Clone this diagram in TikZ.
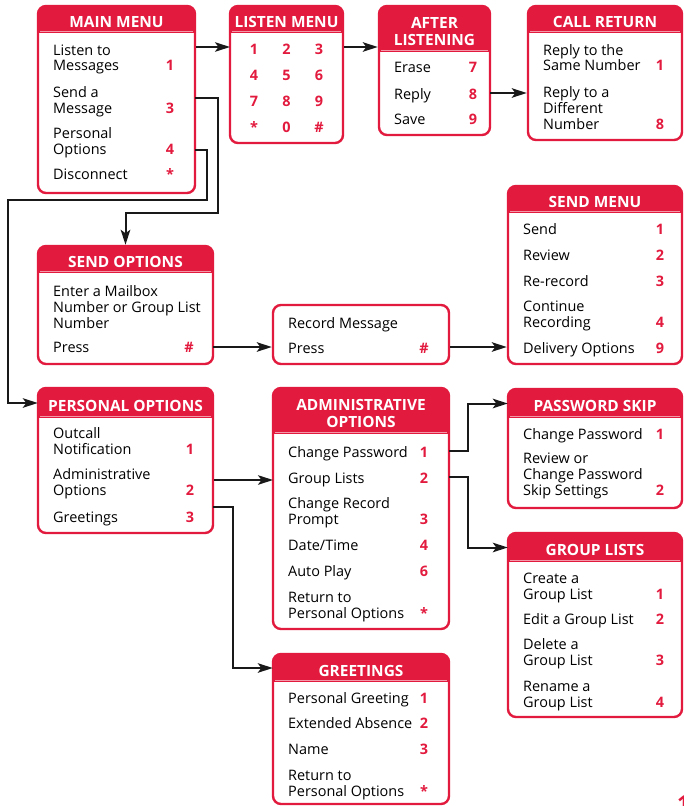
\documentclass[tikz,border=0pt]{standalone}
\usepackage{fontspec}
\setmainfont{Open Sans}
\usetikzlibrary{arrows.meta,fit}
\definecolor{menured}{RGB}{226,26,62}

\newcommand{\itemlines}[1]{\begin{tabular}[b]{@{}l@{}}#1\end{tabular}}
% box with red title bar: name, left, top, right, bottom, bar bottom, title
\newcommand{\menubox}[7]{%
  \begin{scope}
    \clip[rounded corners=8bp] (#2,#3) rectangle (#4,#5);
    \fill[menured] (#2,#3) rectangle (#4,#6);
  \end{scope}
  \draw[menured!45!white, line width=0.6bp] (#2+2,#6-1.5) -- (#4-2,#6-1.5);
  \node[inner sep=0pt, fit={(#2,#3) (#4,#6)}] (#1-t) {};
  \node[menutitle] (#1-h) at ([yshift=-2.5bp]#1-t.center) {#7};
  \node[menuframe, fit={(#2,#3) (#4,#5)}] (#1) {};
}
% entries: name, text x, number x, list of baseline/text/number
\newcommand{\menuitems}[4]{%
  \foreach \ybase/\txt/\nm [count=\i] in {#4}{
    \node[entry] (#1-e\i) at (#2,\ybase) {\itemlines{\txt}};
    \node[keynum] (#1-n\i) at (#3,\ybase) {\nm};
  }
}

\begin{document}
\begin{tikzpicture}[x=1bp,y=-1bp,
  menuframe/.style={draw=menured, line width=2.4bp, rounded corners=8bp, inner sep=0pt},
  menutitle/.style={inner sep=0pt, text=white, align=center, font=\bfseries\fontsize{15.5}{17.5}\selectfont},
  entry/.style={anchor=base west, inner sep=0pt, text=black, font=\fontsize{14.5}{16}\selectfont},
  keynum/.style={anchor=base, inner sep=0pt, text=menured, font=\bfseries\fontsize{14.5}{16}\selectfont},
  arr/.style={-{Stealth[length=15bp,width=9.5bp,inset=3.5bp]}, line width=2bp, black!90}]
\useasboundingbox (0,0) rectangle (684,806);

% top row
\menubox{mainmenu}{38}{6}{195}{193}{33}{MAIN MENU}
\menuitems{mainmenu}{53}{170}{71/{Listen to\\Messages}/1, 113/{Send a\\Message}/3,
  154/{Personal\\Options}/4, 179/{Disconnect}/*}

\menubox{listenmenu}{230}{6}{343}{143}{33}{LISTEN MENU}
\foreach \k [count=\i from 0] in {1,2,3,4,5,6,7,8,9,*,0,\#}{
  \pgfmathtruncatemacro\kcol{mod(\i,3)}
  \pgfmathtruncatemacro\krow{div(\i,3)}
  \node[keynum] (listenmenu-k\i) at (254+32.5*\kcol,55+25.7*\krow) {\k};
}

\menubox{afterlisten}{379}{6}{490}{135}{52}{AFTER\\LISTENING}
\menuitems{afterlisten}{394}{473}{73/Erase/7, 99/Reply/8, 124/Save/9}

\menubox{callreturn}{528}{6}{682}{140}{33}{CALL RETURN}
\menuitems{callreturn}{543}{660}{71/{Reply to the\\Same Number}/1,
  129/{Reply to a\\Different\\Number}/8}

% send a message
\menubox{sendopts}{38}{246}{213}{364}{273}{SEND OPTIONS}
\menuitems{sendopts}{53}{189}{328/{Enter a Mailbox\\Number or Group List\\Number}/{}, 352/Press/\#}

\node[menuframe, fit={(273,305) (449,364)}] (recordmsg) {};
\menuitems{recordmsg}{288}{424}{328/{Record Message}/{}, 353/Press/\#}

\menubox{sendmenu}{508}{186}{682}{364}{213}{SEND MENU}
\menuitems{sendmenu}{523}{660}{234/Send/1, 260/Review/2, 286/Re-record/3,
  327/{Continue\\Recording}/4, 353/{Delivery Options}/9}

% personal options
\menubox{persopts}{38}{388}{213}{533}{418}{PERSONAL OPTIONS}
\menuitems{persopts}{53}{190}{454/{Outcall\\Notification}/1,
  495/{Administrative\\Options}/2, 522/Greetings/3}

\menubox{adminopts}{273}{388}{449}{629}{434}{ADMINISTRATIVE\\OPTIONS}
\menuitems{adminopts}{288}{424}{457/{Change Password}/1, 483/{Group Lists}/2,
  524/{Change Record\\Prompt}/3, 550/{Date/Time}/4, 576/{Auto Play}/6,
  618/{Return to\\Personal Options}/*}

\menubox{pwskip}{508}{389}{682}{508}{418}{PASSWORD SKIP}
\menuitems{pwskip}{523}{660}{439/{Change Password}/1,
  495/{Review or\\Change Password\\Skip Settings}/2}

\menubox{grouplists}{508}{533}{682}{717}{562}{GROUP LISTS}
\menuitems{grouplists}{523}{660}{599/{Create a\\Group List}/1, 624/{Edit a Group List}/2,
  665/{Delete a\\Group List}/3, 707/{Rename a\\Group List}/4}

\menubox{greetings}{273}{654}{449}{804}{682}{GREETINGS}
\menuitems{greetings}{288}{424}{703/{Personal Greeting}/1, 728/{Extended Absence}/2,
  754/Name/3, 796/{Return to\\Personal Options}/*}

\node[keynum, font=\bfseries\fontsize{22}{22}\selectfont, anchor=north west] (pagenum) at (677,796) {1};

% connectors
\coordinate (listen-in) at (230,47);
\draw[arr] (mainmenu.east |- listen-in) -- (listen-in);
\draw[arr] (listenmenu.east |- listen-in) -- (afterlisten.west |- listen-in);
\coordinate (reply-out) at (490,93);
\draw[arr] (reply-out) -- (callreturn.west |- reply-out);
\coordinate (send-out) at (195,98);
\draw[arr] (send-out) -- ++(23,0) -- ++(0,115) -| (sendopts.north);
\coordinate (pers-out) at (195,150);
\draw[arr] (pers-out) -- ++(12,0) -- ++(0,50) -- ++(-199,0) |- (persopts-t.west);
\coordinate (press-out) at (213,347);
\draw[arr] (press-out) -- (recordmsg.west |- press-out);
\draw[arr] (recordmsg.east |- press-out) -- (sendmenu.west |- press-out);
\coordinate (admin-in) at (273,480);
\draw[arr] (persopts.east |- admin-in) -- (admin-in);
\coordinate (greet-out) at (213,507);
\draw[arr] (greet-out) -- ++(20,0) |- (greetings-t.west);
\coordinate (pw-out) at (449,451);
\draw[arr] (pw-out) -- ++(19,0) |- (pwskip-t.west);
\coordinate (gl-out) at (449,477);
\draw[arr] (gl-out) -- ++(19,0) |- (grouplists-t.west);
\end{tikzpicture}
\end{document}
